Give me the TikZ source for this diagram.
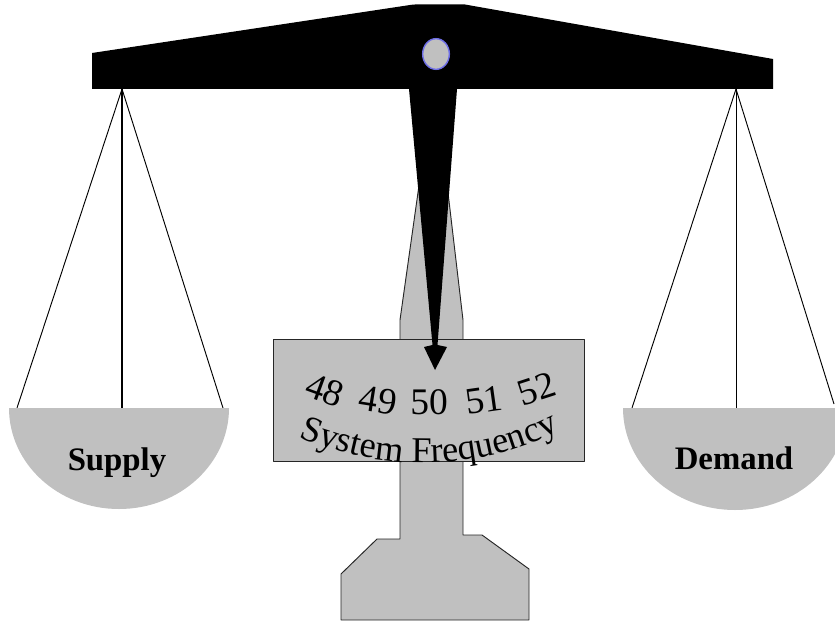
\documentclass[tikz,border=0pt]{standalone}
\usepackage{fontspec}
\setmainfont{Liberation Serif}
\usetikzlibrary{decorations.text}
\definecolor{scalegray}{RGB}{192,192,192}
\definecolor{pivotblue}{RGB}{110,110,230}
\begin{document}
\begin{tikzpicture}[x=0.03cm,y=0.03cm,
  standpart/.style={fill=scalegray,draw=black!85,line width=0.8pt,line join=round},
  beampart/.style={fill=black},
  chain/.style={draw=black,line width=0.8pt},
  chainmain/.style={draw=black,line width=2pt},
  panshape/.style={fill=scalegray},
  panlabel/.style={font=\fontsize{28}{28}\selectfont\bfseries,inner sep=0pt},
  dialnum/.style={font=\fontsize{32}{32}\selectfont,inner sep=0pt}]
\clip (0,0) rectangle (835,-621);
\fill[white] (0,0) rectangle (835,-621);

% upper column of the stand, partly hidden by the pointer
\draw[standpart] (424,-150) -- (443,-150) -- (463,-320) -- (463,-345) -- (400,-345) -- (400,-320) -- cycle;
% lower stem and foot
\draw[standpart] (400,-455) -- (400,-539) -- (377,-539) -- (341,-574) -- (341,-620) -- (529,-620) -- (529,-569) -- (482,-535) -- (463,-535) -- (463,-455);
% dial plate
\draw[standpart] (273,-339) rectangle (584,-461);

% beam
\fill[beampart] (92,-53) -- (410,-5) to[out=10,in=180] (422,-4.5) -- (465,-4.5) -- (773,-59) -- (773,-89) -- (92,-89) -- cycle;
% pointer with its arrow head
\fill[beampart] (409,-89) -- (457,-89) -- (437.5,-345) -- (447,-347) -- (435,-370) -- (424,-347) -- (432.5,-345) -- cycle;
% pivot
\filldraw[fill=scalegray,draw=pivotblue,line width=1.2pt] (436,-54) ellipse [x radius=0.4cm,y radius=0.46cm];

% hanging points and rims of the pans
\coordinate (lh) at (122,-89);
\coordinate (ll) at (17,-408);
\coordinate (lm) at (122,-408);
\coordinate (lr) at (223,-408);
\coordinate (rh) at (736,-89);
\coordinate (rl) at (632,-408);
\coordinate (rm) at (736,-408);
\coordinate (rr) at (834,-404);

\draw[chain] (lh) -- (ll);
\draw[chain] (lh) -- (lr);
\draw[chainmain] (lh) -- (lm);
\draw[chain] (rh) -- (rl);
\draw[chain] (rh) -- (rr);
\draw[chain] (rh) -- (rm);

% pans
\fill[panshape] (9,-408) arc[start angle=180,end angle=360,x radius=3.3cm,y radius=3.03cm] -- cycle;
\fill[panshape] (623,-408) arc[start angle=180,end angle=360,x radius=3.36cm,y radius=3.06cm] -- cycle;

\node[panlabel] (supply) at (117,-463) {Supply};
\node[panlabel] (demand) at (734,-458) {Demand};

% dial scale
\node[dialnum,rotate=-20] (f48) at (325,-390) {48};
\node[dialnum,rotate=-9] (f49) at (378,-400) {49};
\node[dialnum] (f50) at (429,-402) {50};
\node[dialnum,rotate=8] (f51) at (484,-400) {51};
\node[dialnum,rotate=18] (f52) at (537,-389) {52};

\path[decorate,decoration={text along path,text align=center,
  text={|\fontsize{31}{31}\selectfont|System Frequency}}]
  (290,-433) .. controls (380,-474) and (480,-474) .. (568,-426);
\end{tikzpicture}
\end{document}
